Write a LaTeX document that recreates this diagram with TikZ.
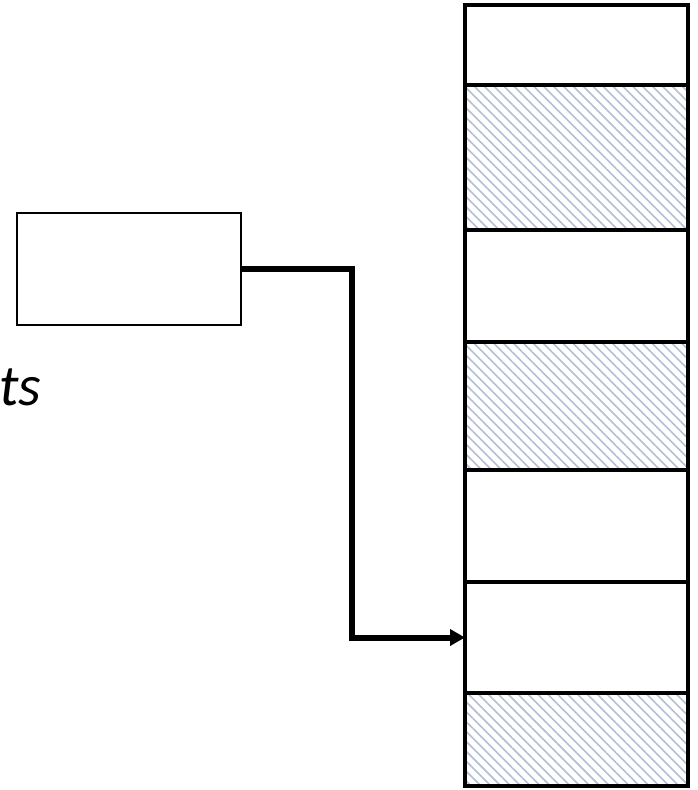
\documentclass[tikz,border=0pt]{standalone}
\usepackage{fontspec}
\newfontfamily\labelfont{Carlito}
\usetikzlibrary{arrows.meta,patterns.meta}

\definecolor{hatchgray}{RGB}{180,190,212}

\tikzset{
  cell/.style={draw,line width=3.5pt,minimum width=223pt,inner sep=0pt,outer sep=0pt,anchor=north west},
  freecell/.style={cell,fill=white},
  usedcell/.style={cell,pattern={Lines[angle=-45,distance=7pt,line width=1.6pt]},pattern color=hatchgray},
  ptrbox/.style={draw,line width=2.8pt,minimum width=224pt,minimum height=112pt,inner sep=0pt,outer sep=0pt,anchor=north west},
  link/.style={line width=6pt,-{Triangle[length=15pt,width=16pt]}}
}

\begin{document}
\begin{tikzpicture}[x=1pt,y=-1pt]
\useasboundingbox (0,0) rectangle (698,790);

% heap column
\node[freecell,minimum height=80pt]  (c1) at (465,5) {};
\node[usedcell,minimum height=145pt] (c2) at (465,85) {};
\node[freecell,minimum height=112pt] (c3) at (465,230) {};
\node[usedcell,minimum height=128pt] (c4) at (465,342) {};
\node[freecell,minimum height=112pt] (c5) at (465,470) {};
\node[freecell,minimum height=111pt] (c6) at (465,582) {};
\node[usedcell,minimum height=93pt]  (c7) at (465,693) {};

% pointer
\node[ptrbox] (box) at (17,213) {};
\node[anchor=base west,inner sep=0pt] (lbl) at (-1,405) {\labelfont\itshape\fontsize{58}{60}\selectfont ts};

\draw[link] (box.east) -- ++(111,0) |- (c6.west);

\end{tikzpicture}
\end{document}
